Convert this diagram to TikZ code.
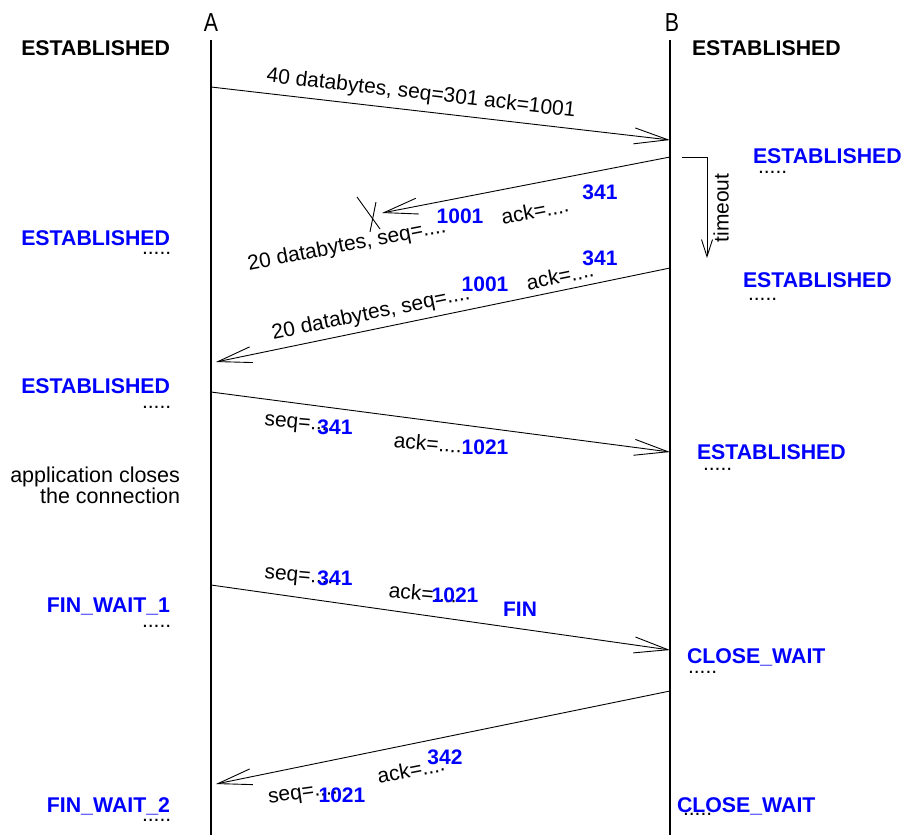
\documentclass[tikz,border=0pt]{standalone}
\usepackage{fontspec}
\setmainfont{Liberation Sans}
\usetikzlibrary{arrows.meta}
\definecolor{stblue}{RGB}{0,0,255}
\begin{document}
\begin{tikzpicture}[x=1pt,y=-1pt,
  every node/.style={inner sep=0pt, outer sep=0pt, font=\fontsize{21}{25}\selectfont},
  lifeline/.style={line width=1.5pt},
  msg/.style={line width=0.9pt, -{Straight Barb[length=34pt,width=16pt,line width=0.9pt]}},
  tmo/.style={line width=0.9pt, -{Straight Barb[length=17pt,width=11pt,line width=0.9pt]}},
  state/.style={font=\fontsize{21.3}{25}\selectfont\bfseries},
  bstate/.style={state, text=stblue},
  num/.style={font=\fontsize{21}{25}\selectfont\bfseries, text=stblue},
  pname/.style={font=\fontsize{26}{30}\selectfont, xscale=0.82},
  dotsl/.style={anchor=base west}
]
\useasboundingbox (0,0) rectangle (907,835);

% process names and lifelines
\node[pname, anchor=base] (lA) at (211,31) {A};
\node[pname, anchor=base] (lB) at (672,31) {B};
\coordinate (Atop) at (211,40);
\coordinate (Abot) at (211,835);
\coordinate (Btop) at (670,40);
\coordinate (Bbot) at (670,835);
\draw[lifeline] (Atop) -- (Abot);
\draw[lifeline] (Btop) -- (Bbot);

% states on A side
\node[state, anchor=base east] (sA0) at (170,55) {ESTABLISHED};
\node[bstate, anchor=base east] (sA1) at (170,245) {ESTABLISHED};
\node[dotsl] (dA1) at (142,254) {.....};
\node[bstate, anchor=base east] (sA2) at (170,393) {ESTABLISHED};
\node[dotsl] (dA2) at (142,408) {.....};
\node[anchor=base east, font=\fontsize{21.5}{25}\selectfont] (app1) at (180,482) {application closes};
\node[anchor=base east, font=\fontsize{21.5}{25}\selectfont] (app2) at (180,503) {the connection};
\node[bstate, anchor=base east] (sA3) at (170,612) {FIN\_WAIT\_1};
\node[dotsl] (dA3) at (142,627) {.....};
\node[bstate, anchor=base east] (sA4) at (170,812) {FIN\_WAIT\_2};
\node[dotsl] (dA4) at (142,821) {.....};

% states on B side
\node[state, anchor=base west] (sB0) at (692,55) {ESTABLISHED};
\node[bstate, anchor=base west] (sB1) at (753,163) {ESTABLISHED};
\node[dotsl] (dB1) at (758,173) {.....};
\node[bstate, anchor=base west] (sB2) at (743,287) {ESTABLISHED};
\node[dotsl] (dB2) at (748,300) {.....};
\node[bstate, anchor=base west] (sB3) at (697,459) {ESTABLISHED};
\node[dotsl] (dB3) at (703,470) {.....};
\node[bstate, anchor=base west] (sB4) at (687,663) {CLOSE\_WAIT};
\node[dotsl] (dB4) at (688,673) {.....};
\node[bstate, anchor=base west] (sB5) at (677,812) {CLOSE\_WAIT};
\node[dotsl] (dB5) at (683,815) {.....};

% message 1
\coordinate (m1s) at (211,87);
\coordinate (m1e) at (670,140);
\draw[msg] (m1s) -- (m1e);
\node[rotate=-6.5] (t1) at (421,94) {40 databytes, seq=301 ack=1001};

% message 2 (lost)
\coordinate (m2s) at (670,157);
\coordinate (m2e) at (382,213);
\draw[msg] (m2s) -- (m2e);
\coordinate (x1a) at (357,197);
\coordinate (x1b) at (380,229);
\coordinate (x2a) at (376,202);
\coordinate (x2b) at (370,232);
\draw[line width=0.9pt] (x1a) -- (x1b);
\draw[line width=0.9pt] (x2a) -- (x2b);
\node[rotate=11] (t2a) at (347,246) {20 databytes, seq=....};
\node[rotate=11] (t2b) at (535,211) {ack=....};
\node[num] (n2a) at (460,216) {1001};
\node[num] (n2b) at (600,192) {341};

% timeout
\coordinate (to1) at (682,157);
\coordinate (to2) at (707,157);
\coordinate (to3) at (707,258);
\draw[tmo] (to1) -- (to2) -- (to3);
\node[rotate=90] (tto) at (721,208) {timeout};

% message 3 (retransmission)
\coordinate (m3s) at (670,268);
\coordinate (m3e) at (216,362);
\draw[msg] (m3s) -- (m3e);
\node[rotate=11.5] (t3a) at (371,314) {20 databytes, seq=....};
\node[rotate=11.5] (t3b) at (560,276) {ack=....};
\node[num] (n3a) at (485,284) {1001};
\node[num] (n3b) at (600,258) {341};

% message 4
\coordinate (m4s) at (211,392);
\coordinate (m4e) at (670,452);
\draw[msg] (m4s) -- (m4e);
\node[rotate=-5] (t4a) at (299,425) {seq=....};
\node[rotate=-5] (t4b) at (428,443) {ack=....};
\node[num] (n4a) at (335,427) {341};
\node[num] (n4b) at (485,447) {1021};

% message 5 (FIN)
\coordinate (m5s) at (211,585);
\coordinate (m5e) at (670,650);
\draw[msg] (m5s) -- (m5e);
\node[rotate=-5] (t5a) at (299,578) {seq=....};
\node[rotate=-5] (t5b) at (423,593) {ack=....};
\node[num] (n5a) at (335,578) {341};
\node[num] (n5b) at (455,595) {1021};
\node[num] (n5c) at (520,609) {FIN};

% message 6 (ACK of FIN)
\coordinate (m6s) at (670,691);
\coordinate (m6e) at (216,784);
\draw[msg] (m6s) -- (m6e);
\node[rotate=8] (t6a) at (303,795) {seq=....};
\node[rotate=11] (t6b) at (411,770) {ack=....};
\node[num] (n6a) at (342,795) {1021};
\node[num] (n6b) at (445,757) {342};
\end{tikzpicture}
\end{document}
